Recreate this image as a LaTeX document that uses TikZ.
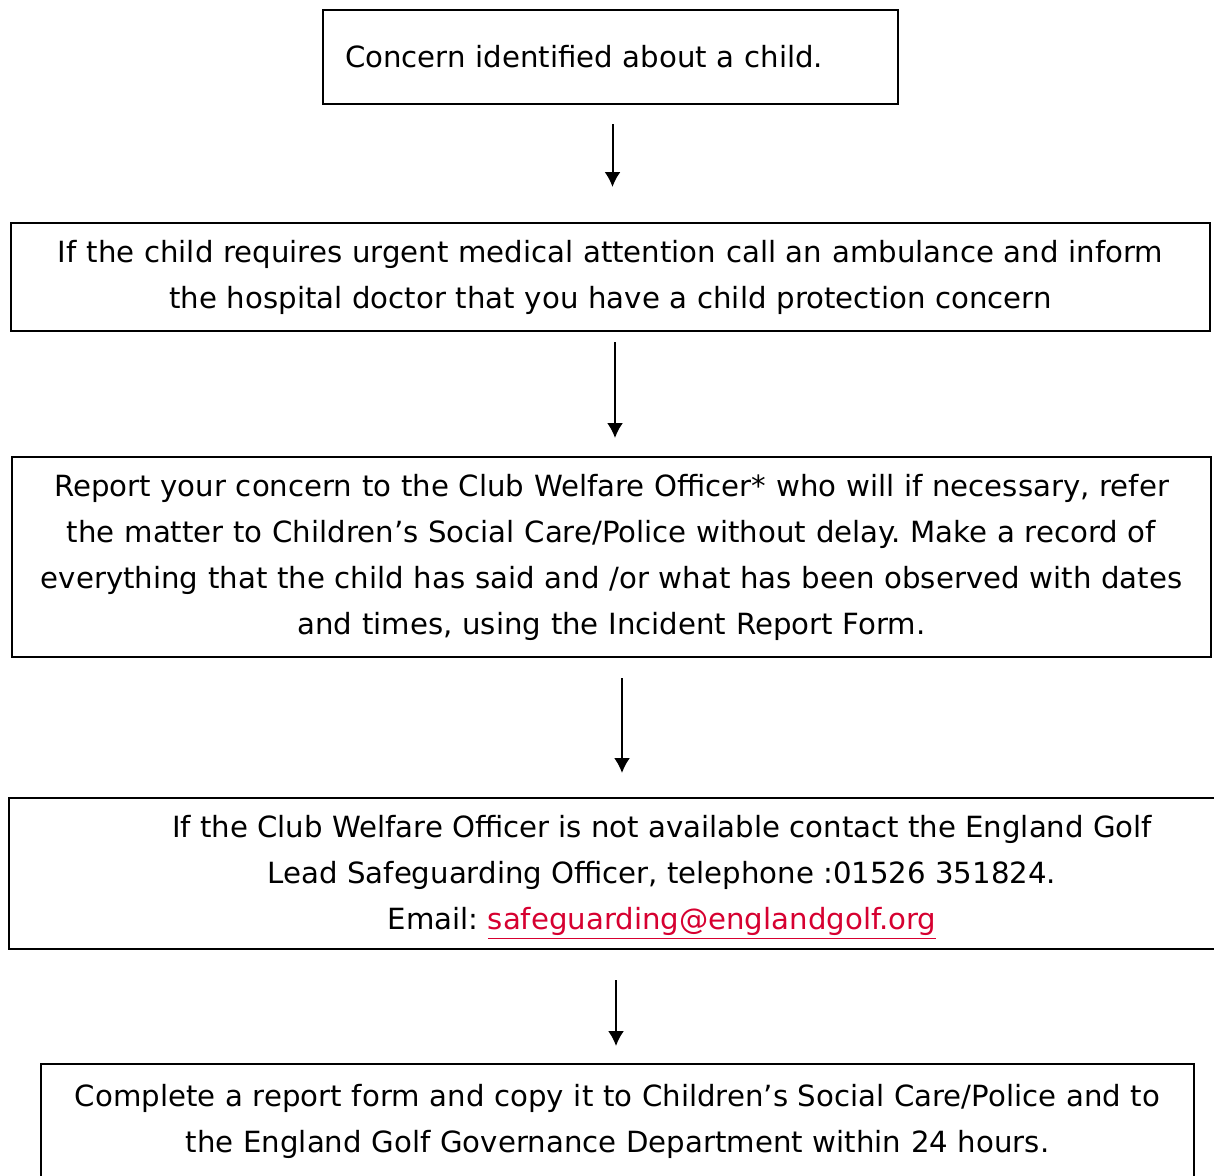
\documentclass[tikz,border=0pt]{standalone}
\usepackage{fontspec}
\setmainfont{DejaVu Sans}
\usetikzlibrary{arrows.meta}
\definecolor{linkred}{RGB}{214,0,48}
\frenchspacing
\tikzset{
  flowbox/.style={draw, line width=1pt, inner sep=0pt, align=center,
    font=\fontsize{14.6}{23}\selectfont},
  flowtext/.style={inner sep=0pt, align=center,
    font=\fontsize{14.6}{23}\selectfont},
  flowarrow/.style={->, line width=1pt}
}
\begin{document}
\begin{tikzpicture}[x=0.5pt, y=-0.5pt, >={Latex[length=7.5pt,width=8pt]}]
  % page frame of the reference
  \useasboundingbox (0,0) rectangle (1214,1175);

  % the five steps
  \node[flowbox, text width=265.5pt, minimum height=47pt, inner xsep=11pt, align=left]
    (concern) at (610.5,57) {Concern identified about a child.};
  \node[flowbox, text width=599.5pt, minimum height=54pt]
    (medical) at (610.5,277)
    {If the child requires urgent medical attention call an ambulance and inform\\
     the hospital doctor that you have a child protection concern};
  \node[flowbox, text width=599.5pt, minimum height=100pt]
    (report) at (611.5,557)
    {Report your concern to the Club Welfare Officer* who will if necessary, refer\\
     the matter to Children’s Social Care/Police without delay. Make a record of\\
     everything that the child has said and /or what has been observed with dates\\
     and times, using the Incident Report Form.};
  \node[flowbox, minimum width=609.5pt, minimum height=75.5pt]
    (officer) at (618.5,873.5) {};
  \node[flowtext] (officertext) at (662,877)
    {If the Club Welfare Officer is not available contact the England Golf\\
     Lead Safeguarding Officer, telephone :01526 351824.\\
     Email: \textcolor{linkred}{\underline{safeguarding@englandgolf.org}}};
  \node[flowbox, text width=576.5pt, minimum height=57pt]
    (complete) at (617.5,1121)
    {Complete a report form and copy it to Children’s Social Care/Police and to\\
     the England Golf Governance Department within 24 hours.};

  % arrow ends sit in the gaps between the boxes
  \coordinate (a1top) at (612.5,124);  \coordinate (a1end) at (612.5,187);
  \coordinate (a2top) at (615,342);    \coordinate (a2end) at (615,438);
  \coordinate (a3top) at (622,678);    \coordinate (a3end) at (622,773);
  \coordinate (a4top) at (616,980);    \coordinate (a4end) at (616,1046);

  \foreach \i in {1,...,4} {
    \draw[flowarrow] (a\i top) -- (a\i end);
  }
\end{tikzpicture}
\end{document}
